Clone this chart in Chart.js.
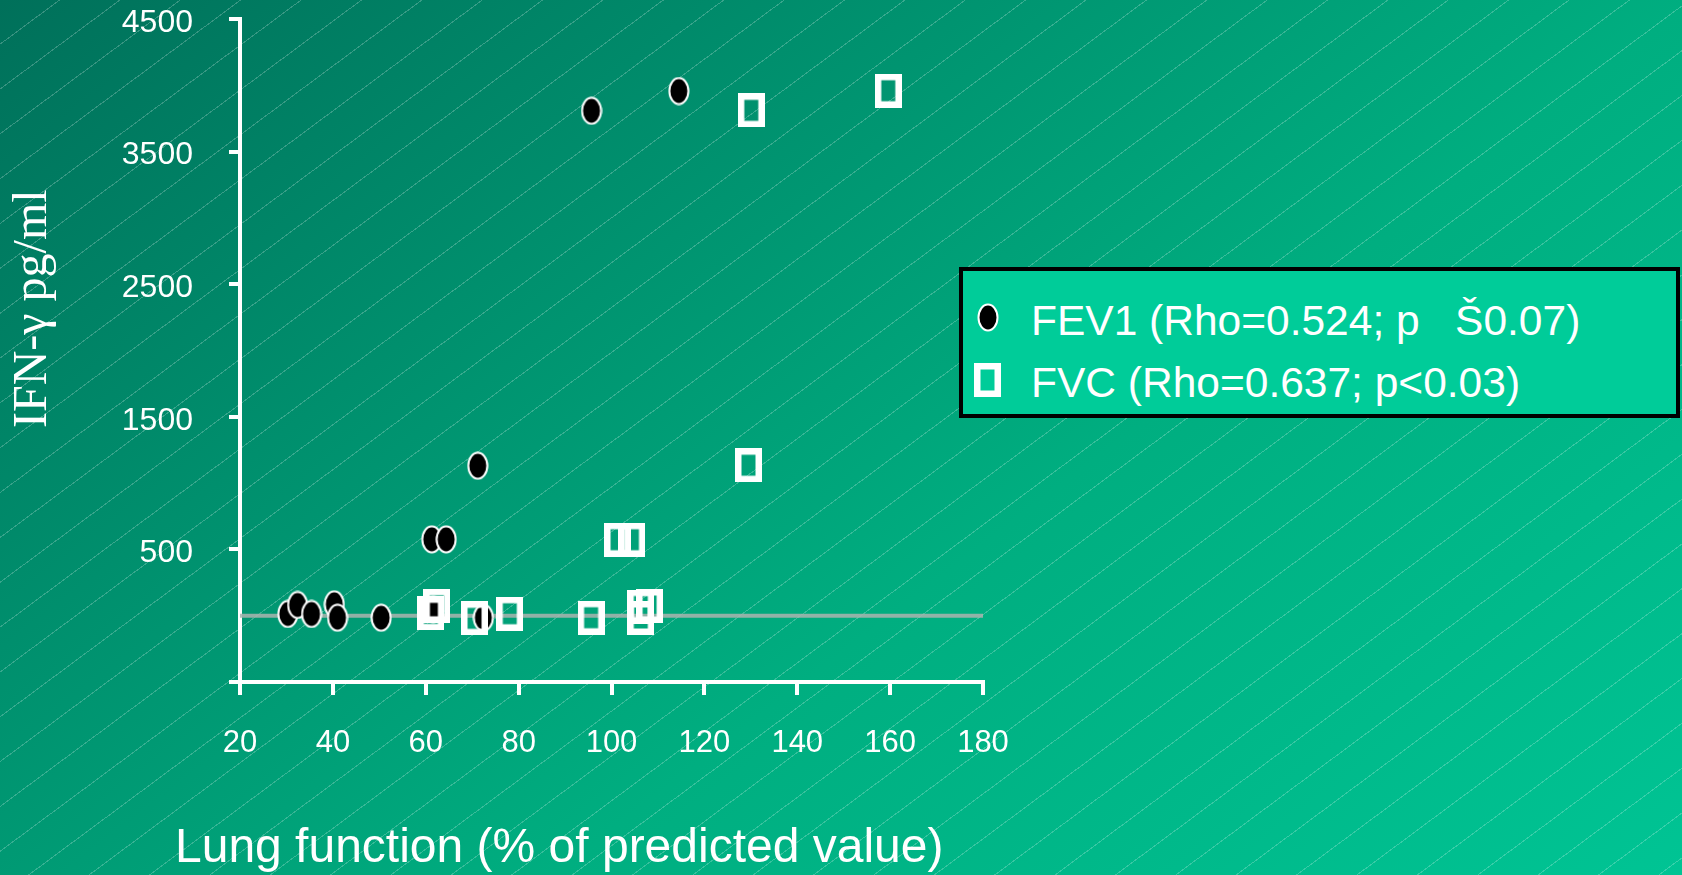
<!DOCTYPE html>
<html>
<head>
<meta charset="utf-8">
<script src="https://cdn.jsdelivr.net/npm/chart.js@4.4.1/dist/chart.umd.min.js"></script>
<style>
  html, body { margin: 0; padding: 0; }
  body {
    width: 1682px;
    height: 875px;
    overflow: hidden;
    position: relative;
    background:
      repeating-linear-gradient(143.4deg, rgba(255,255,255,0) 0px, rgba(255,255,255,0) 35px, rgba(255,255,255,0.22) 35px, rgba(255,255,255,0.22) 36px),
      linear-gradient(142.5deg, #00705a 0%, #00ae80 60%, #00c494 100%);
    font-family: "Liberation Sans", Arial, sans-serif;
    color: #fff;
  }
  #wrap { position: absolute; left: 0; top: 0; width: 1682px; height: 875px; }
  .txt { position: absolute; white-space: pre; line-height: 1; }
  #ytitle {
    left: 6px; top: 428px;
    font-family: "Liberation Serif", "Times New Roman", serif;
    font-size: 48px;
    transform-origin: left top;
    transform: rotate(-90deg);
  }
  #xtitle { left: 175px; top: 822px; font-size: 48px; }
  #legend {
    position: absolute; left: 959px; top: 267px;
    width: 721px; height: 151px; box-sizing: border-box;
    border: 4px solid #000; background: #00cc99;
  }
  .lg { font-size: 42.5px; }
  .mk { position: absolute; }
</style>
</head>
<body>
<div id="wrap"><canvas id="chart"></canvas></div>
<div class="txt" id="ytitle">IFN-γ pg/ml</div>
<div class="txt" id="xtitle">Lung function (% of predicted value)</div>
<div id="legend"></div>
<img class="mk" id="mk1" style="left:977px; top:303px;">
<div class="txt lg" style="left:1031px; top:300px;">FEV1 (Rho=0.524; p   Š0.07)</div>
<img class="mk" id="mk2" style="left:974px; top:363px;">
<div class="txt lg" style="left:1031px; top:362px;">FVC (Rho=0.637; p&lt;0.03)</div>

<script>
// values
const fev1X = [30.3, 32.4, 35.4, 40.3, 41.0, 50.4, 61.6, 61.3, 64.4, 71.2, 72.4, 95.7, 114.5];
const fev1Y = [13, 81, 13, 86, -15, -15, 48, 576, 576, 1131, -15, 3808, 3957];
const fvcX = [61.1, 62.4, 70.5, 78.1, 95.6, 101.3, 104.4, 106.3, 106.3, 108.2, 129.5, 130.1, 159.6];
const fvcY = [18, 75, -20, 15, -15, 573, 573, -17, 69, 73, 1135, 3811, 3959];
const zeroLineX = [20, 180];
const zeroLineY = [0, 0];
const xTicks = [20, 40, 60, 80, 100, 120, 140, 160, 180];
const yTicks = [-500, 500, 1500, 2500, 3500, 4500];

const toPoints = (xs, ys) => xs.map((x, i) => ({ x: x, y: ys[i] }));

function ellipseMarker() {
  const c = document.createElement("canvas");
  c.width = 22;
  c.height = 29;
  const g = c.getContext("2d");
  g.beginPath();
  g.ellipse(11, 14.5, 9.5, 13, 0, 0, Math.PI * 2);
  g.fillStyle = "#000";
  g.fill();
  g.lineWidth = 2;
  g.strokeStyle = "#fff";
  g.stroke();
  return c;
}

function boxMarker() {
  const c = document.createElement("canvas");
  c.width = 27;
  c.height = 34;
  const g = c.getContext("2d");
  g.lineWidth = 6.5;
  g.strokeStyle = "#fff";
  g.strokeRect(3.25, 3.25, 20.5, 27.5);
  return c;
}

const circleImg = ellipseMarker();
const boxImg = boxMarker();
document.getElementById("mk1").src = circleImg.toDataURL();
document.getElementById("mk2").src = boxImg.toDataURL();

Chart.defaults.font.family = '"Liberation Sans", Arial, sans-serif';
Chart.defaults.color = "#fff";

const ctx = document.getElementById("chart").getContext("2d");
new Chart(ctx, {
  type: "scatter",
  data: {
    datasets: [
      {
        label: "FEV1 (Rho=0.524; p   Š0.07)",
        data: toPoints(fev1X, fev1Y),
        pointStyle: circleImg,
        pointRadius: 14,
        order: 1,
      },
      {
        label: "FVC (Rho=0.637; p<0.03)",
        data: toPoints(fvcX, fvcY),
        pointStyle: boxImg,
        pointRadius: 16,
        order: 0,
      },
      {
        label: "zero",
        data: toPoints(zeroLineX, zeroLineY),
        showLine: true,
        borderColor: "rgba(170,180,175,0.85)",
        borderWidth: 4,
        pointRadius: 0,
        order: 2,
      },
    ],
  },
  options: {
    responsive: true,
    maintainAspectRatio: false,
    animation: false,
    layout: { padding: { top: 19, right: 699, bottom: 0, left: 0 } },
    plugins: {
      legend: { display: false },
      tooltip: { enabled: false },
    },
    scales: {
      x: {
        type: "linear",
        min: 20,
        max: 180,
        afterFit: (scale) => { scale.height = 193; },
        afterBuildTicks: (scale) => { scale.ticks = xTicks.map((v) => ({ value: v })); },
        border: { display: true, color: "#fff", width: 4 },
        grid: { drawOnChartArea: false, color: "#fff", lineWidth: 4, tickLength: 13 },
        ticks: { color: "#fff", font: { size: 31 }, padding: 30, maxRotation: 0 },
      },
      y: {
        type: "linear",
        min: -500,
        max: 4500,
        afterFit: (scale) => {
          scale.width = 240;
          scale.paddingTop = 0;
          scale.paddingBottom = 0;
        },
        afterBuildTicks: (scale) => { scale.ticks = yTicks.map((v) => ({ value: v })); },
        border: { display: true, color: "#fff", width: 4 },
        grid: { drawOnChartArea: false, color: "#fff", lineWidth: 4, tickLength: 11 },
        ticks: {
          color: "#fff",
          font: { size: 32 },
          padding: 36,
          labelOffset: 4,
          callback: (v) => (v === -500 ? "" : String(v)),
        },
      },
    },
  },
});
</script>
</body>
</html>
